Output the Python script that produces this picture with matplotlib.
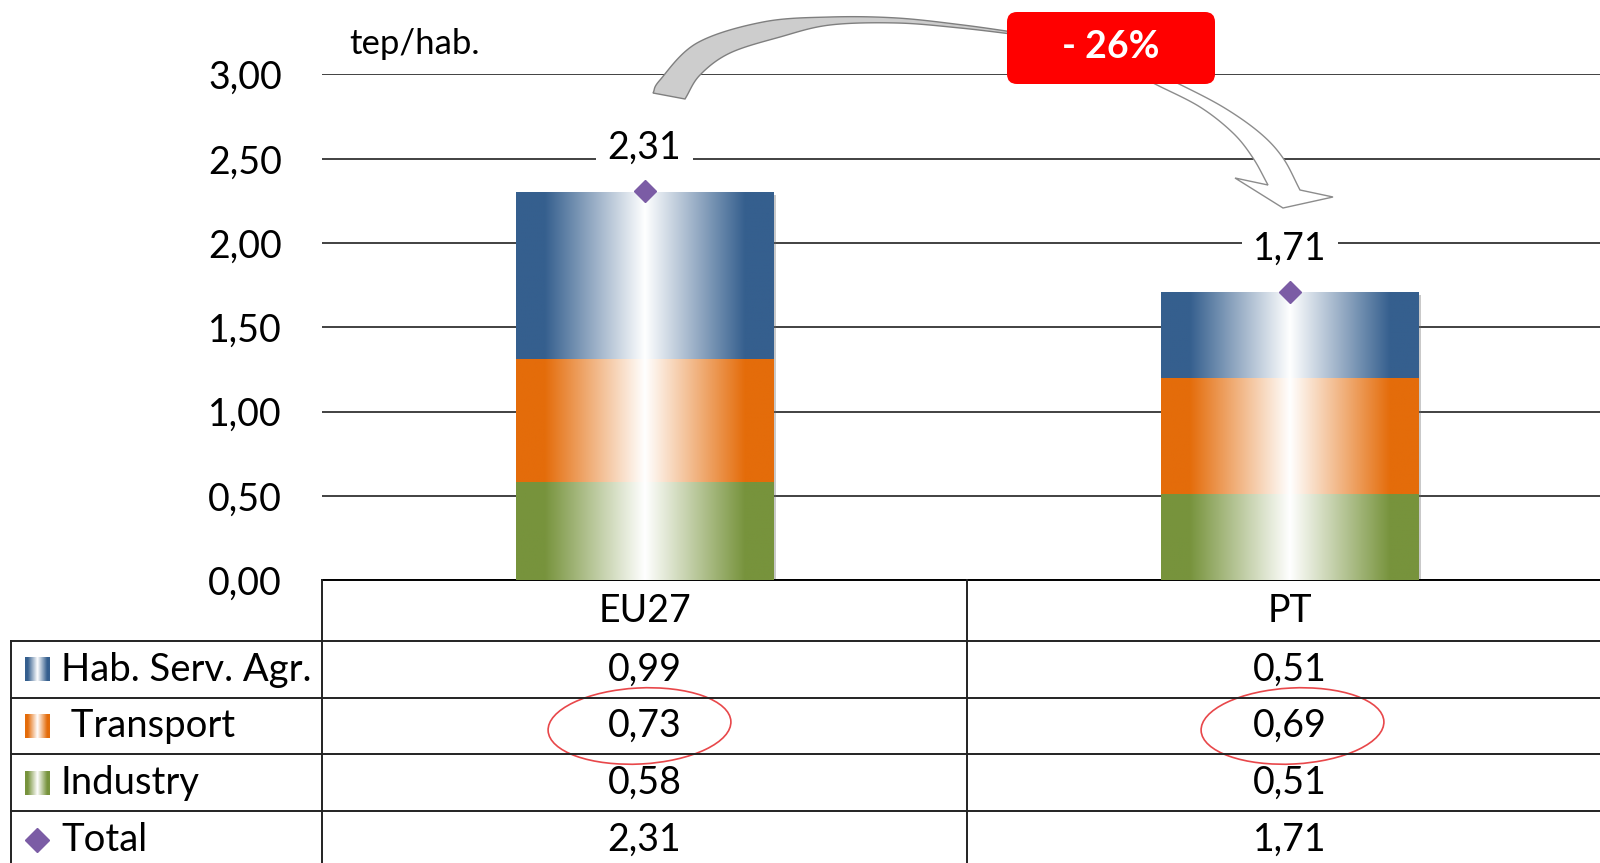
import numpy as np
import matplotlib.pyplot as plt
import matplotlib.patheffects as pe
from matplotlib.patches import Ellipse, FancyBboxPatch, Polygon
from matplotlib.colors import to_rgb
from matplotlib.transforms import blended_transform_factory

plt.rcParams['font.family'] = ['Lato', 'DejaVu Sans']

# data
countries = ['EU27', 'PT']
industry = [0.58, 0.51]
transport = [0.73, 0.69]
hab_serv = [0.99, 0.51]
total = [2.31, 1.71]
row_labels = ['Hab. Serv. Agr.', ' Transport', 'Industry', 'Total']
yticks = [0.0, 0.5, 1.0, 1.5, 2.0, 2.5, 3.0]
unit = 'tep/hab.'
change = '- 26%'

# colours
c_hab = '#355f8e'
c_tra = '#e46c0a'
c_ind = '#77933c'
c_tot = '#7b5ca5'

W, H = 1600, 863


def fmt(v):
    return f'{v:.2f}'.replace('.', ',')


# horizontal gradient: dark at the edges, white in the middle
def gradient(color, n=256):
    c = np.array(to_rgb(color))
    pos = np.linspace(0, 1, n)
    w = np.clip(0.5 - np.abs(pos - 0.5) - 0.11, 0, None) / 0.39
    return (c[None, :] * (1 - w[:, None]) + w[:, None])[None, :, :]


# catmull-rom through a few points, for the curved arrow
def smooth(pts, n=20):
    pts = np.asarray(pts, float)
    p = np.vstack([2 * pts[0] - pts[1], pts, 2 * pts[-1] - pts[-2]])
    out = []
    for i in range(1, len(p) - 2):
        p0, p1, p2, p3 = p[i - 1], p[i], p[i + 1], p[i + 2]
        for t in np.linspace(0, 1, n, endpoint=False):
            out.append(0.5 * (2 * p1 + (-p0 + p2) * t + (2 * p0 - 5 * p1 + 4 * p2 - p3) * t ** 2
                              + (-p0 + 3 * p1 - 3 * p2 + p3) * t ** 3))
    out.append(pts[-1])
    return np.array(out)


fig = plt.figure(figsize=(W / 100, H / 100), dpi=100)
ax = fig.add_axes([322 / W, (H - 580) / H, 1290 / W, 505.5 / H])
ov = fig.add_axes([0, 0, 1, 1], zorder=5)
ov.set_xlim(0, W)
ov.set_ylim(H, 0)
ov.axis('off')
ov.patch.set_alpha(0)

x = np.arange(len(countries))
bar_w = 0.4
bottom = np.zeros(len(countries))
for vals, col in [(industry, c_ind), (transport, c_tra), (hab_serv, c_hab)]:
    bars = ax.bar(x, vals, bar_w, bottom=bottom, color=col, linewidth=0, zorder=2)
    for b in bars:
        x0, y0 = b.get_x(), b.get_y()
        im = ax.imshow(gradient(col), extent=[x0, x0 + b.get_width(), y0, y0 + b.get_height()],
                       aspect='auto', interpolation='bilinear', zorder=3)
        im.set_clip_path(b)
    bottom += np.array(vals)

# soft shadow under the stacks
ax.bar(x, bottom, bar_w, color='none', zorder=1.9,
       path_effects=[pe.SimplePatchShadow(offset=(2, -2), shadow_rgbFace='0.4', alpha=0.35)])

ax.plot(x, total, 'D', color=c_tot, ms=11, zorder=4, clip_on=False)
for xi, t in zip(x, total):
    ax.annotate(fmt(t), (xi, t), xytext=(0, 31), textcoords='offset points', ha='center', va='center',
                fontsize=27, zorder=4, bbox=dict(boxstyle='square,pad=0.3', fc='white', ec='none'))

ax.set_xlim(-0.5, 1.5)
ax.set_ylim(0, 3.0)
ax.set_yticks(yticks)
ax.set_yticklabels([fmt(v) for v in yticks], fontsize=27)
ax.tick_params(axis='y', length=0, pad=29)
ax.set_xticks([])
for s in ['top', 'right', 'left']:
    ax.spines[s].set_visible(False)
ax.spines['bottom'].set_linewidth(1.4)
ax.yaxis.grid(True, color='#333333', lw=1.3)
ax.set_axisbelow(True)

ov.text(349, 44, unit, fontsize=25, ha='left', va='center')

# table under the chart
bt = blended_transform_factory(ax.transData, ov.transData)
edges = [580, 641, 698, 754, 811, 868]
for y in edges[1:-1]:
    ov.plot([11, W], [y, y], color='#222222', lw=1.4)
ov.plot([11, 11], [edges[1], H], color='#222222', lw=1.4)
for xv in [-0.5, 0.5]:
    ov.plot([xv, xv], [580, H], color='#222222', lw=1.4, transform=bt)

ov_mid = [(a + b) / 2 for a, b in zip(edges[:-1], edges[1:])]
for xi, c in zip(x, countries):
    ov.text(xi, ov_mid[0], c, transform=bt, ha='center', va='center', fontsize=27)
for r, vals in enumerate([hab_serv, transport, industry, total]):
    ov.text(11 + 50, ov_mid[r + 1], row_labels[r], ha='left', va='center', fontsize=27.5)
    for xi, v in zip(x, vals):
        ov.text(xi, ov_mid[r + 1], fmt(v), transform=bt, ha='center', va='center', fontsize=27)

for r, col in enumerate([c_hab, c_tra, c_ind]):
    ym = ov_mid[r + 1]
    ov.imshow(gradient(col), extent=[25, 50, ym + 12, ym - 12], aspect='auto',
              interpolation='bilinear')
ov.plot(37, ov_mid[4], 'D', color=c_tot, ms=12)

# red circles round the transport values
for xi, dx in zip(x, [-5, 3]):
    cx = ax.transData.transform((xi, 0))[0] + dx
    ov.add_patch(Ellipse((cx, ov_mid[2]), 183, 76, angle=-3, fc='none', ec='#e8474a', lw=1.2))

# curved arrow with the -26% label
outer = [(653, 93), (660, 80), (697, 43), (763, 22), (830, 17), (897, 18), (963, 25), (1020, 33)]
inner = [(685, 99), (700, 75), (730, 53), (780, 37), (830, 25), (897, 23), (960, 28), (1020, 35)]
ov.add_patch(Polygon(np.vstack([smooth(outer), smooth(inner)[::-1]]), closed=True,
                     fc='#cdcdcd', ec='#7f7f7f', lw=1, zorder=1))
left = [(1125, 69), (1157, 85), (1200, 107), (1233, 133), (1253, 158), (1268, 185)]
right = [(1140, 66), (1177, 83), (1223, 107), (1260, 133), (1283, 158), (1300, 190)]
head = [(1235, 178), (1283, 208), (1333, 197)]
ov.add_patch(Polygon(np.vstack([smooth(left), head, smooth(right)[::-1]]), closed=True,
                     fc='white', ec='#8c8c8c', lw=1, zorder=1))
ov.add_patch(FancyBboxPatch((1007, 12), 208, 72, boxstyle='round,pad=0,rounding_size=10',
                            fc='#ff0000', ec='none', zorder=2))
ov.text(1111, 47, change, color='white', fontweight='bold', fontsize=27, ha='center', va='center',
        zorder=3)

fig.savefig('out.png', dpi=100)
